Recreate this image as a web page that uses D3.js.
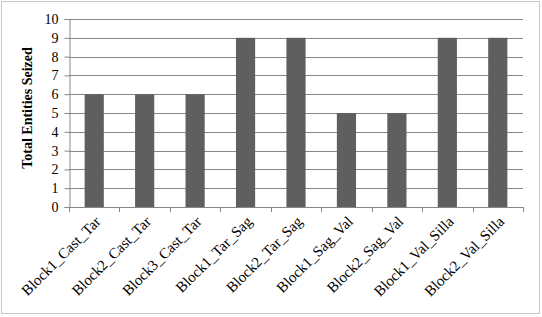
<!DOCTYPE html>
<html><head><meta charset="utf-8">
<script src="https://cdn.jsdelivr.net/npm/d3@7"></script>
<style>body{margin:0;background:#fff}svg{display:block}text{font-family:"Liberation Serif",serif}</style>
</head><body>
<script>
const categories = ["Block1_Cast_Tar","Block2_Cast_Tar","Block3_Cast_Tar","Block1_Tar_Sag","Block2_Tar_Sag","Block1_Sag_Val","Block2_Sag_Val","Block1_Val_Silla","Block2_Val_Silla"];
const values = [6,6,6,9,9,5,5,9,9];
const yTicks = [0,1,2,3,4,5,6,7,8,9,10];
const yTitle = "Total Entities Seized";

const W = 542, H = 317;
const FONT = "Liberation Serif, serif";
const svg = d3.select("body").append("svg").attr("width", W).attr("height", H);
svg.append("rect").attr("x",1.5).attr("y",1.5).attr("width",W-4).attr("height",H-5)
  .attr("fill","#fff").attr("stroke","#c8c8c8").attr("stroke-width",1);

const m = {l:69, r:523, t:19, b:207};
const x = d3.scaleBand().domain(categories).range([m.l, m.r]).paddingInner(0.62).paddingOuter(0.31);
const y = d3.scaleLinear().domain([0,10]).range([m.b, m.t]);

// gridlines
svg.append("g").selectAll("line").data(yTicks.filter(d=>d>0)).join("line")
  .attr("x1", m.l).attr("x2", m.r).attr("y1", d=>Math.round(y(d))+0.5).attr("y2", d=>Math.round(y(d))+0.5)
  .attr("stroke","#878787").attr("stroke-width",1);

// y axis
const ya = svg.append("g").attr("transform",`translate(${m.l+0.5},0)`)
  .call(d3.axisLeft(y).tickValues(yTicks).tickSize(5).tickPadding(6));
ya.select(".domain").attr("stroke","#878787");
ya.selectAll(".tick line").attr("stroke","#878787");
ya.selectAll(".tick text").attr("font-family",FONT).attr("font-size","14px").attr("fill","#000");

// bars
svg.append("g").selectAll("rect").data(values).join("rect")
  .attr("x",(d,i)=>x(categories[i])).attr("width",x.bandwidth())
  .attr("y",d=>y(d)).attr("height",d=>y(0)-y(d)).attr("fill","#5f5f5f");

// x axis with boundary ticks
const step = (m.r - m.l)/categories.length;
const xa = svg.append("g");
xa.append("line").attr("x1",m.l).attr("x2",m.r).attr("y1",m.b+0.5).attr("y2",m.b+0.5).attr("stroke","#878787");
xa.selectAll("line.t").data(d3.range(categories.length+1)).join("line").attr("class","t")
  .attr("x1",i=>Math.round(m.l+i*step)+0.5).attr("x2",i=>Math.round(m.l+i*step)+0.5)
  .attr("y1",m.b).attr("y2",m.b+5).attr("stroke","#878787");
xa.selectAll("text").data(categories).join("text")
  .attr("transform",d=>`translate(${x(d)+x.bandwidth()/2+5},${m.b+13}) rotate(-45)`)
  .attr("text-anchor","end").attr("dominant-baseline","middle")
  .attr("font-family",FONT).attr("font-size","15px").attr("fill","#000")
  .text(d=>d);

// y title
svg.append("text").attr("transform",`translate(29,108) rotate(-90)`)
  .attr("text-anchor","middle").attr("dominant-baseline","middle")
  .attr("font-family",FONT).attr("font-weight","bold").attr("font-size","14px")
  .text(yTitle);
</script>
</body></html>
